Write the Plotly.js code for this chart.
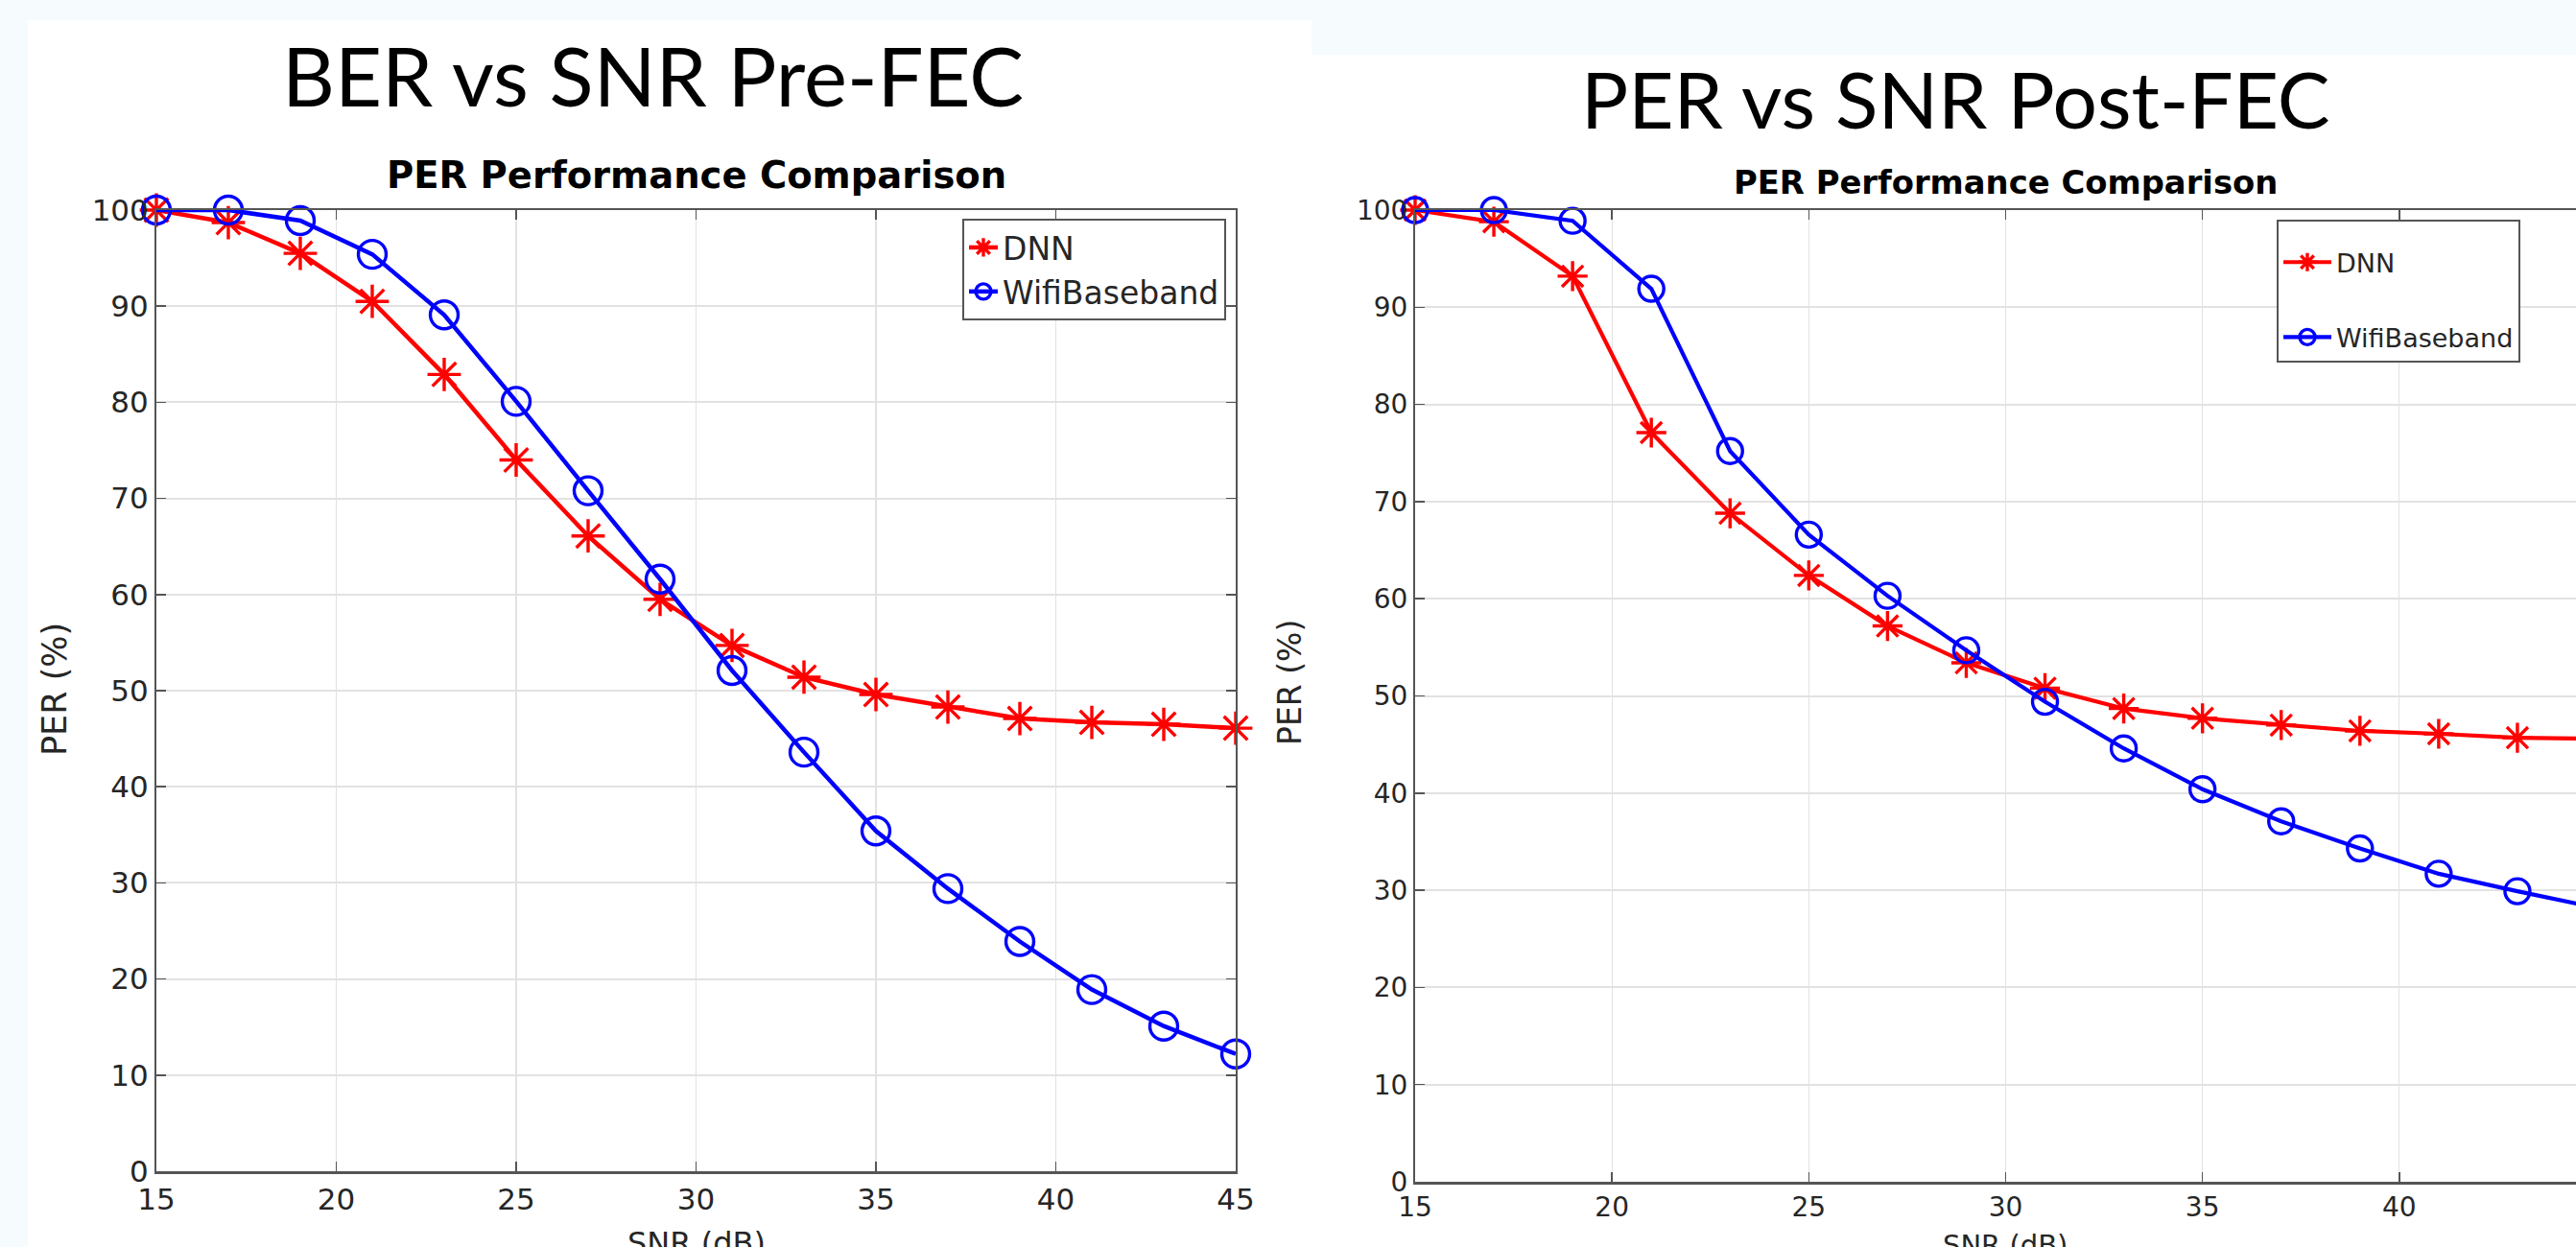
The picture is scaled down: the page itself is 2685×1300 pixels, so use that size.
<!DOCTYPE html>
<html>
<head>
<meta charset="utf-8">
<script src="https://cdn.plot.ly/plotly-3.0.1.min.js"></script>
<style>
  html, body { margin: 0; padding: 0; overflow: hidden; background: #f6fbfe; }
  #chart { width: 2720px; height: 1300px; }
</style>
</head>
<body>
<div id="chart"></div>
<script>
// ---- Data ----
const snr = [15, 17, 19, 21, 23, 25, 27, 29, 31, 33, 35, 37, 39, 41, 43, 45];

// Left figure: BER vs SNR Pre-FEC (PER Performance Comparison)
const preDNN  = [100, 98.7, 95.5, 90.5, 82.9, 74.0, 66.1, 59.5, 54.7, 51.4, 49.6, 48.3, 47.1, 46.7, 46.5, 46.1];
const preWifi = [100, 100, 98.9, 95.4, 89.1, 80.1, 70.8, 61.6, 52.1, 43.6, 35.4, 29.4, 23.9, 18.9, 15.1, 12.2];

// Right figure: PER vs SNR Post-FEC (PER Performance Comparison)
const postDNN  = [100, 98.8, 93.2, 77.1, 68.8, 62.4, 57.2, 53.4, 50.8, 48.7, 47.7, 47.0, 46.4, 46.1, 45.7, 45.6];
const postWifi = [100, 100, 98.9, 91.9, 75.2, 66.6, 60.3, 54.7, 49.4, 44.6, 40.4, 37.1, 34.3, 31.7, 29.9, 28.2];

const seriesNames = ['DNN', 'WifiBaseband'];
const slideTitles = ['BER vs SNR Pre-FEC', 'PER vs SNR Post-FEC'];
const plotTitle = 'PER Performance Comparison';
const xTitle = 'SNR (dB)';
const yTitle = 'PER (%)';

// ---- Layout helpers (pixel -> paper, margins are zero) ----
const W = 2720, H = 1300;
const px = x => x / W;
const py = y => 1 - y / H;

const RED = '#ff0000', BLUE = '#0000ff';
const AXC = '#555555', TXT = '#262626';
const MATFONT = 'DejaVu Sans, sans-serif';

function traces(xv, dnn, wifi, xa, ya, leg, lw, ms) {
  return [
    { x: xv, y: dnn, name: seriesNames[0], type: 'scatter', mode: 'lines+markers',
      xaxis: xa, yaxis: ya, legend: leg, legendgroup: leg + 'a', cliponaxis: false,
      line: { color: RED, width: lw },
      marker: { symbol: 'asterisk-open', size: ms, color: RED, line: { color: RED, width: 3.4 } } },
    { x: xv, y: wifi, name: seriesNames[1], type: 'scatter', mode: 'lines+markers',
      xaxis: xa, yaxis: ya, legend: leg, legendgroup: leg + 'b', cliponaxis: false,
      line: { color: BLUE, width: lw },
      marker: { symbol: 'circle-open', size: ms, color: BLUE, line: { color: BLUE, width: 3.4 } } }
  ];
}

const data = [
  ...traces(snr, preDNN, preWifi, 'x', 'y', 'legend', 4.5, 29),
  ...traces(snr, postDNN, postWifi, 'x2', 'y2', 'legend2', 4.2, 26)
];

function xAxis(domain, anchor, fs) {
  return {
    domain: domain, anchor: anchor, range: [15, 45], dtick: 5, tick0: 15,
    showline: true, linecolor: AXC, linewidth: 2.5, mirror: 'ticks',
    ticks: 'inside', ticklen: 10, tickwidth: 1.5, tickcolor: AXC,
    showgrid: true, gridcolor: '#e2e2e2', gridwidth: 1.2, zeroline: false,
    tickfont: { family: MATFONT, size: fs, color: TXT }, fixedrange: true
  };
}
function yAxis(domain, anchor, fs) {
  return {
    domain: domain, anchor: anchor, range: [0, 100], dtick: 10, tick0: 0,
    showline: true, linecolor: AXC, linewidth: 2, mirror: 'ticks',
    ticks: 'inside', ticklen: 10, tickwidth: 1.5, tickcolor: AXC,
    showgrid: true, gridcolor: '#e2e2e2', gridwidth: 2, zeroline: false,
    tickfont: { family: MATFONT, size: fs, color: TXT }, fixedrange: true
  };
}

const ann = (text, x, y, font, extra) => Object.assign({
  text: text, x: px(x), y: py(y), xref: 'paper', yref: 'paper',
  xanchor: 'center', yanchor: 'middle', showarrow: false, font: font
}, extra || {});

const layout = {
  width: W, height: H,
  margin: { l: 0, r: 0, t: 0, b: 0, pad: 0 },
  paper_bgcolor: '#f6fbfe', plot_bgcolor: '#ffffff',
  showlegend: true,
  xaxis: xAxis([px(163), px(1288)], 'y', 31),
  yaxis: yAxis([py(1221), py(219)], 'x', 31),
  xaxis2: xAxis([px(1475), px(2706)], 'y2', 28),
  yaxis2: yAxis([py(1232), py(219)], 'x2', 28),
  legend: {
    x: px(1003), y: py(228), xanchor: 'left', yanchor: 'top',
    bgcolor: '#ffffff', bordercolor: AXC, borderwidth: 2,
    font: { family: MATFONT, size: 33, color: TXT }, tracegroupgap: 0
  },
  legend2: {
    x: px(2373), y: py(229), xanchor: 'left', yanchor: 'top',
    bgcolor: '#ffffff', bordercolor: AXC, borderwidth: 2, itemwidth: 50,
    title: { text: ' ', font: { family: MATFONT, size: 14 } },
    font: { family: MATFONT, size: 27, color: TXT }, tracegroupgap: 40
  },
  shapes: [
    { type: 'rect', xref: 'paper', yref: 'paper', layer: 'below',
      x0: px(29), x1: px(1367), y0: 0, y1: py(21), fillcolor: '#ffffff', line: { width: 0 } },
    { type: 'rect', xref: 'paper', yref: 'paper', layer: 'below',
      x0: px(1367), x1: 1, y0: 0, y1: py(57), fillcolor: '#ffffff', line: { width: 0 } }
  ],
  annotations: [
    ann(slideTitles[0], 680, 78, { family: 'Lato, sans-serif', size: 85, color: '#000000' }),
    ann(slideTitles[1], 2038, 102, { family: 'Lato, sans-serif', size: 82, color: '#000000' }),
    ann('<b>' + plotTitle + '</b>', 725.5, 182, { family: MATFONT, size: 38.5, color: '#000000' }),
    ann('<b>' + plotTitle + '</b>', 2090, 190, { family: MATFONT, size: 33.8, color: '#000000' }),
    ann(xTitle, 725.5, 1296, { family: MATFONT, size: 32, color: TXT }),
    ann(xTitle, 2090, 1298, { family: MATFONT, size: 29, color: TXT }),
    ann(yTitle, 57, 718, { family: MATFONT, size: 35, color: TXT }, { textangle: -90 }),
    ann(yTitle, 1344, 712, { family: MATFONT, size: 33, color: TXT }, { textangle: -90 })
  ]
};

Plotly.newPlot('chart', data, layout, { staticPlot: true, displayModeBar: false });
</script>
</body>
</html>
